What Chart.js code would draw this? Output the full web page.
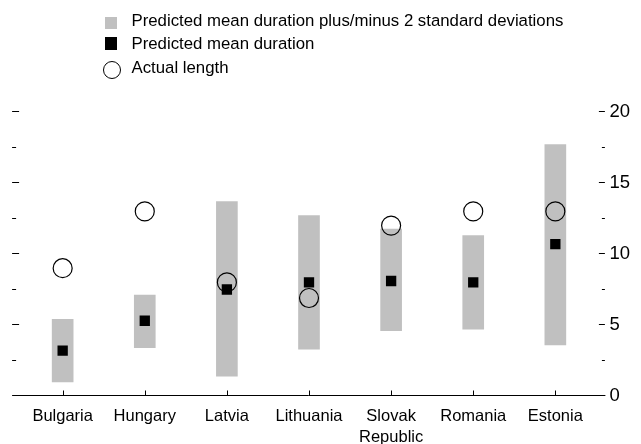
<!DOCTYPE html>
<html>
<head>
<meta charset="utf-8">
<script src="https://cdn.jsdelivr.net/npm/chart.js@4.4.0/dist/chart.umd.min.js"></script>
<style>
  html, body { margin: 0; padding: 0; background: #fff; }
  #wrap { position: relative; width: 641px; height: 444px; font-family: "Liberation Sans", Arial, sans-serif; }
  #chart { position: absolute; left: 0; top: 0; }
  #legend { position: absolute; left: 0; top: 0; }
  .item { position: absolute; left: 131.5px; font-size: 16.8px; line-height: 24px; color: #000; white-space: nowrap; }
  .mark { position: absolute; box-sizing: border-box; }
</style>
</head>
<body>
<div id="wrap">
  <canvas id="chart" width="641" height="444"></canvas>
  <div id="legend"></div>
</div>
<script>
const countries = ['Bulgaria', 'Hungary', 'Latvia', 'Lithuania', ['Slovak', 'Republic'], 'Romania', 'Estonia'];
const rangeLow = [1.0, 3.4, 1.4, 3.3, 4.6, 4.7, 3.6];
const rangeHigh = [5.4, 7.1, 13.7, 12.7, 11.75, 11.3, 17.7];
const predictedMean = [3.2, 5.3, 7.5, 8.0, 8.1, 8.0, 10.7];
const actualLength = [9, 13, 8, 6.9, 12, 13, 13];
const yTicks = [0, 5, 10, 15, 20];

const seriesNames = [
  'Predicted mean duration plus/minus 2 standard deviations',
  'Predicted mean duration',
  'Actual length'
];

// ticks and axis line, drawn from the chart's own scales
const axisPlugin = {
  id: 'axisMarks',
  afterDraw(chart) {
    const { ctx, chartArea, scales } = chart;
    const x = scales.x, y = scales.y;
    const y0 = Math.round(y.getPixelForValue(0)) - 0.5;
    ctx.save();
    ctx.strokeStyle = '#000';
    ctx.lineWidth = 1;
    ctx.beginPath();
    ctx.moveTo(chartArea.left - 9.5, y0);
    ctx.lineTo(chartArea.right + 9, y0);
    countries.forEach((c, i) => {
      const px = Math.round(x.getPixelForValue(i)) + 0.5;
      ctx.moveTo(px, y0);
      ctx.lineTo(px, y0 - 5);
    });
    for (let v = 2.5; v <= 20; v += 2.5) {
      const py = Math.round(y.getPixelForValue(v)) - 0.5;
      const major = v % 5 === 0;
      ctx.moveTo(chartArea.left - 9.5, py);
      ctx.lineTo(chartArea.left - (major ? 2.5 : 5.5), py);
      ctx.moveTo(chartArea.right + (major ? 2.5 : 5.5), py);
      ctx.lineTo(chartArea.right + 8.5, py);
    }
    ctx.stroke();
    ctx.restore();
  }
};

const chart = new Chart(document.getElementById('chart'), {
  type: 'bar',
  data: {
    labels: countries,
    datasets: [
      {
        type: 'line',
        label: seriesNames[1],
        data: predictedMean,
        showLine: false,
        pointStyle: 'rect',
        pointRadius: 7.3,
        pointBackgroundColor: '#000',
        pointBorderWidth: 0,
        order: 1
      },
      {
        type: 'line',
        label: seriesNames[2],
        data: actualLength,
        showLine: false,
        pointStyle: 'circle',
        pointRadius: 9.5,
        pointBackgroundColor: 'rgba(0,0,0,0)',
        pointBorderColor: '#000',
        pointBorderWidth: 1.2,
        order: 2
      },
      {
        label: seriesNames[0],
        data: rangeLow.map((lo, i) => [lo, rangeHigh[i]]),
        backgroundColor: '#c0c0c0',
        barThickness: 21,
        borderSkipped: false,
        order: 3
      }
    ]
  },
  options: {
    responsive: false,
    animation: false,
    layout: { padding: { left: 21.6, top: 112, right: 0, bottom: 0 } },
    plugins: { legend: { display: false }, tooltip: { enabled: false } },
    scales: {
      x: {
        offset: true,
        grid: { display: false, drawTicks: false },
        border: { display: false },
        ticks: {
          color: '#000',
          padding: 9.5,
          maxRotation: 0,
          autoSkip: false,
          font: { family: 'Liberation Sans', size: 16.5, lineHeight: 1.3 }
        },
        afterFit(s) { s.height = 48; }
      },
      y: {
        position: 'right',
        min: 0,
        max: 20,
        grid: { display: false, drawTicks: false },
        border: { display: false },
        afterBuildTicks(s) { s.ticks = yTicks.map(v => ({ value: v })); },
        ticks: {
          color: '#000',
          padding: 13,
          font: { family: 'Liberation Sans', size: 18.5 }
        },
        afterFit(s) { s.width = 44.6; }
      }
    }
  },
  plugins: [axisPlugin]
});

// legend, one row per series
const legend = document.getElementById('legend');
const rowTops = [8.8, 32.4, 56];
const marks = [
  'left:105px;top:17px;width:12px;height:12px;background:#c0c0c0;',
  'left:105px;top:37px;width:12px;height:13px;background:#000;',
  'left:102.5px;top:60.5px;width:18px;height:18px;border:1.5px solid #000;border-radius:50%;'
];
seriesNames.forEach((name, i) => {
  const m = document.createElement('div');
  m.className = 'mark';
  m.style.cssText = marks[i];
  legend.appendChild(m);
  const t = document.createElement('div');
  t.className = 'item';
  t.style.top = rowTops[i] + 'px';
  t.textContent = name;
  legend.appendChild(t);
});
</script>
</body>
</html>
